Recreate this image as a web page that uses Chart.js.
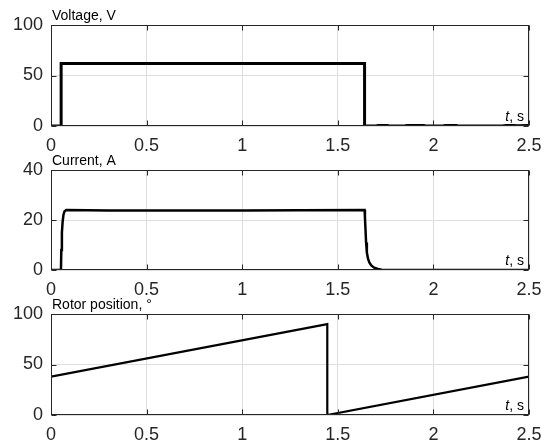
<!DOCTYPE html>
<html><head><meta charset="utf-8">
<script src="https://cdn.jsdelivr.net/npm/chart.js@4.4.0/dist/chart.umd.min.js"></script>
<style>
html,body{margin:0;padding:0;background:#fff;}
#wrap{position:relative;width:547px;height:446px;overflow:hidden;background:#fff;}
canvas{position:absolute;left:0;}
</style></head><body>
<div id="wrap">
<canvas id="c1" width="547" height="153" style="top:0px"></canvas>
<canvas id="c2" width="547" height="144" style="top:153px"></canvas>
<canvas id="c3" width="547" height="149" style="top:297px"></canvas>
</div>
<script>
// ---- data ----
const xTickValues = [0, 0.5, 1, 1.5, 2, 2.5];
const xTickLabels = ['0', '0.5', '1', '1.5', '2', '2.5'];

const voltageTickValues = [0, 50, 100];
const voltageTickLabels = ['0', '50', '100'];
const currentTickValues = [0, 20, 40];
const currentTickLabels = ['0', '20', '40'];
const rotorTickValues = [0, 50, 100];
const rotorTickLabels = ['0', '50', '100'];

const voltageT = [0, 0.053, 0.053, 1.64, 1.64, 1.70, 1.71, 1.76, 1.77, 1.85, 1.86, 1.95, 1.96, 2.05, 2.06, 2.12, 2.13, 2.36, 2.38, 2.42, 2.44, 2.5];
const voltageV = [0, 0, 62, 62, 0, 0, 0.4, 0.4, 0, 0, 0.4, 0.4, 0, 0, 0.4, 0.4, 0, 0, 0.4, 0.4, 0.3, 0.4];

const currentT = [0, 0.052, 0.054, 0.057, 0.061, 0.065, 0.071, 0.08, 0.3, 0.6, 1.0, 1.3, 1.64, 1.642, 1.645, 1.648, 1.652, 1.658, 1.665, 1.675, 1.69, 1.71, 1.73, 1.76, 2.5];
const currentA = [0, 0, 8, 15, 19.5, 22, 23.5, 24, 23.8, 23.8, 23.8, 23.9, 24, 21, 16, 11, 7, 4.5, 3, 1.8, 0.9, 0.4, 0.15, 0, 0];

const rotorT = [0, 1.445, 1.445, 2.5];
const rotorDeg = [38, 90, 0, 38];

// ---- drawing ----
const FONT = '"Liberation Sans", Arial, Helvetica, sans-serif';
const AX = '#262626';

const framePlugin = {
  id: 'frame',
  afterDraw(chart, args, opts) {
    const ctx = chart.ctx, a = chart.chartArea;
    const xs = chart.scales.x, ys = chart.scales.y;
    const L = Math.round(a.left) + 0.5, R = Math.round(a.right) - 0.5;
    const T = Math.round(a.top) + 0.5, B = Math.round(a.bottom) - 0.5;
    ctx.save();
    ctx.strokeStyle = AX; ctx.lineWidth = 1;
    ctx.strokeRect(L, T, R - L, B - T);
    const tl = 5;
    ctx.beginPath();
    xs.ticks.forEach(t => {
      const px = Math.round(xs.getPixelForValue(t.value)) + 0.5;
      ctx.moveTo(px, B); ctx.lineTo(px, B - tl);
      ctx.moveTo(px, T); ctx.lineTo(px, T + tl);
    });
    ys.ticks.forEach(t => {
      const py = Math.round(ys.getPixelForValue(t.value)) + 0.5;
      ctx.moveTo(L, py); ctx.lineTo(L + tl, py);
      ctx.moveTo(R, py); ctx.lineTo(R - tl, py);
    });
    ctx.stroke();
    // axis title
    ctx.fillStyle = '#000';
    ctx.font = '14px ' + FONT;
    ctx.textAlign = 'left'; ctx.textBaseline = 'alphabetic';
    ctx.fillText(opts.title, a.left + 1, a.top - 5);
    // t, s label
    const rest = ', s';
    const wRest = ctx.measureText(rest).width;
    ctx.font = 'italic 14px ' + FONT;
    const wT = ctx.measureText('t').width;
    const x0 = a.right - 5 - wRest - wT;
    const yb = a.bottom - 5;
    ctx.fillText('t', x0, yb);
    ctx.font = '14px ' + FONT;
    ctx.fillText(rest, x0 + wT, yb);
    ctx.restore();
  }
};

function toPoints(xsArr, ysArr) {
  return xsArr.map((v, i) => ({ x: v, y: ysArr[i] }));
}

function makeChart(id, cfg) {
  const canvas = document.getElementById(id);
  const H = canvas.height;
  return new Chart(canvas, {
    type: 'line',
    data: {
      datasets: [{
        data: toPoints(cfg.t, cfg.v),
        borderColor: '#000',
        borderWidth: cfg.lw,
        pointRadius: 0,
        tension: 0,
        fill: false,
        borderJoinStyle: 'miter',
        borderCapStyle: 'butt'
      }]
    },
    options: {
      responsive: false,
      animation: false,
      devicePixelRatio: 1,
      layout: { padding: { top: cfg.top, left: 0, right: 18, bottom: 0 } },
      plugins: { legend: { display: false }, tooltip: { enabled: false }, frame: { title: cfg.title } },
      scales: {
        x: {
          type: 'linear', min: 0, max: 2.5,
          afterBuildTicks: s => { s.ticks = xTickValues.map(v => ({ value: v })); },
          afterFit: s => { s.height = H - cfg.bottom; s.paddingLeft = 0; s.paddingRight = 0; },
          ticks: {
            callback: (v, i) => xTickLabels[i],
            font: { family: FONT, size: 18 }, color: AX, padding: 9, maxRotation: 0, autoSkip: false
          },
          grid: { color: '#dedede', lineWidth: 1, drawTicks: false },
          border: { display: false }
        },
        y: {
          type: 'linear', min: cfg.ymin, max: cfg.ymax,
          afterBuildTicks: s => { s.ticks = cfg.yt.map(v => ({ value: v })); },
          afterFit: s => { s.width = 51; s.paddingTop = 0; s.paddingBottom = 0; },
          ticks: {
            callback: (v, i) => cfg.yl[i],
            font: { family: FONT, size: 18 }, color: AX, padding: 8
          },
          grid: { color: '#dedede', lineWidth: 1, drawTicks: false },
          border: { display: false }
        }
      }
    },
    plugins: [framePlugin]
  });
}

makeChart('c1', { t: voltageT, v: voltageV, lw: 3, top: 25, bottom: 126, ymin: 0, ymax: 100,
  yt: voltageTickValues, yl: voltageTickLabels, title: 'Voltage, V' });
makeChart('c2', { t: currentT, v: currentA, lw: 2.5, top: 17, bottom: 117, ymin: 0, ymax: 40,
  yt: currentTickValues, yl: currentTickLabels, title: 'Current, A' });
makeChart('c3', { t: rotorT, v: rotorDeg, lw: 2.2, top: 17, bottom: 118, ymin: 0, ymax: 100,
  yt: rotorTickValues, yl: rotorTickLabels, title: 'Rotor position, °' });
</script>
</body></html>
